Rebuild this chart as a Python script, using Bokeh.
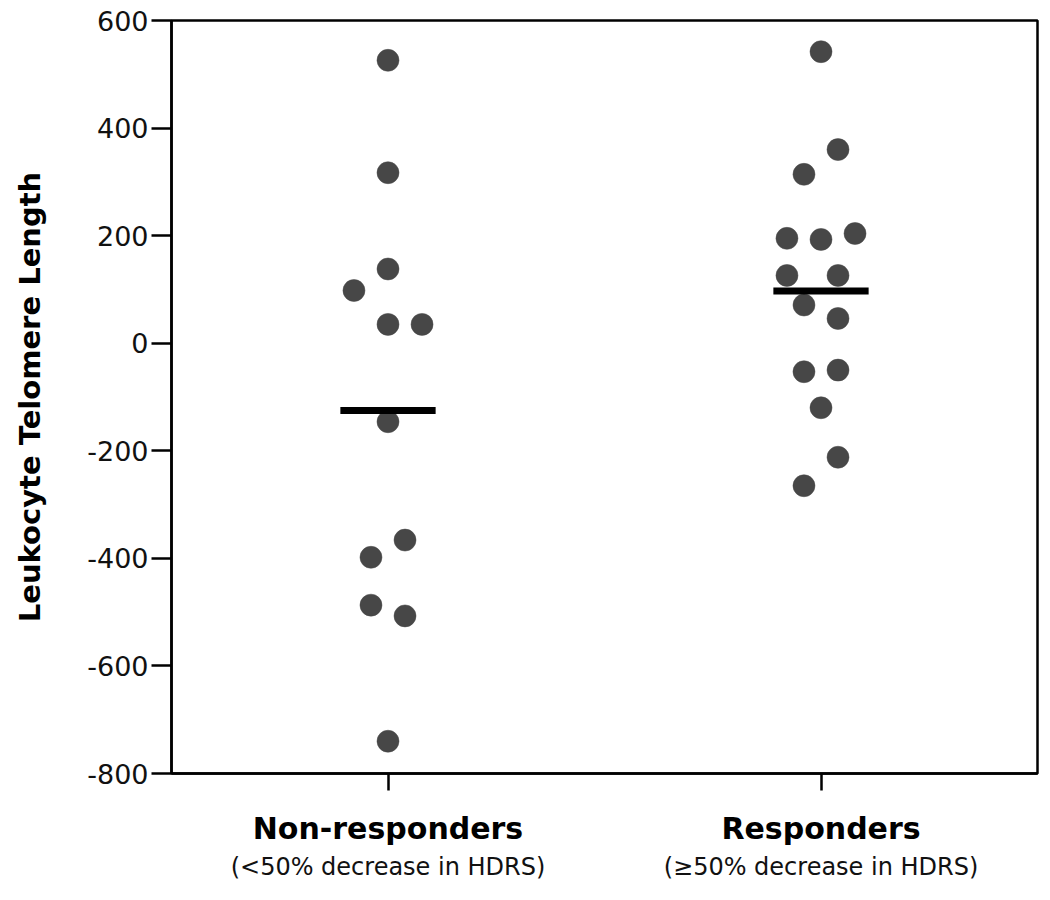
from bokeh.plotting import figure
from bokeh.models import FixedTicker, LinearAxis, Range1d
from bokeh.embed import file_html
from bokeh.resources import INLINE

# ---- data ----
groups = ["Non-responders", "Responders"]
subtitles = ["(<50% decrease in HDRS)", "(\u226550% decrease in HDRS)"]
group_pos = [0.5, 1.5]

nonresp_values = [526, 317, 138, 98, 35, 35, -146, -366, -398, -487, -507, -740]
nonresp_slots = [0, 0, 0, -2, 0, 2, 0, 1, -1, -1, 1, 0]

resp_values = [542, 360, 314, 195, 193, 204, 126, 126, 71, 46, -53, -50, -120, -212, -265]
resp_slots = [0, 1, -1, -2, 0, 2, -2, 1, -1, 1, -1, 1, 0, 1, -1]

group_means = [-125, 97]

y_ticks = [-800, -600, -400, -200, 0, 200, 400, 600]

# ---- style constants ----
SLOT_W = 0.0393      # half dot width in data units (dot-plot stacking)
DOT_COLOR = "#474747"
FONT = "DejaVu Sans"

p = figure(width=1042, height=892, output_backend="svg", toolbar_location=None,
           x_range=Range1d(0, 2), y_range=Range1d(-800, 600),
           min_border_left=171, min_border_right=5, min_border_top=20, min_border_bottom=119)
p.background_fill_color = "white"
p.border_fill_color = "white"
p.xgrid.visible = False
p.ygrid.visible = False
p.outline_line_color = "black"
p.outline_line_width = 2.5

xs_n = [group_pos[0] + s * SLOT_W for s in nonresp_slots]
xs_r = [group_pos[1] + s * SLOT_W for s in resp_slots]
p.scatter(xs_n, nonresp_values, size=22, fill_color=DOT_COLOR, line_color=DOT_COLOR, line_width=0.5)
p.scatter(xs_r, resp_values, size=22, fill_color=DOT_COLOR, line_color=DOT_COLOR, line_width=0.5)

p.rect(x=group_pos, y=group_means, width=0.22, height=7, height_units="screen",
       fill_color="black", line_color=None)

# y axis
ya = p.yaxis[0]
ya.ticker = FixedTicker(ticks=y_ticks)
ya.major_label_overrides = {v: str(v) for v in y_ticks}
ya.minor_tick_line_color = None
ya.major_tick_in = 0
ya.major_tick_out = 20
ya.major_tick_line_width = 2.5
ya.axis_line_width = 2.5
ya.major_label_text_font = FONT
ya.major_label_text_font_size = "27px"
ya.major_label_text_color = "#111111"
ya.major_label_standoff = 3
ya.axis_label = "Leukocyte Telomere Length"
ya.axis_label_text_font = FONT
ya.axis_label_text_font_style = "bold"
ya.axis_label_text_font_size = "29px"
ya.axis_label_text_color = "black"
ya.axis_label_standoff = 37

# x axis (group names)
xa = p.xaxis[0]
xa.ticker = FixedTicker(ticks=group_pos)
xa.major_label_overrides = {group_pos[i]: groups[i] for i in range(2)}
xa.minor_tick_line_color = None
xa.major_tick_in = 0
xa.major_tick_out = 17
xa.major_tick_line_width = 2.5
xa.axis_line_width = 2.5
xa.major_label_text_font = FONT
xa.major_label_text_font_style = "bold"
xa.major_label_text_font_size = "30px"
xa.major_label_text_color = "black"
xa.major_label_standoff = 20

# second x axis (subtitles)
xa2 = LinearAxis(ticker=FixedTicker(ticks=group_pos),
                 major_label_overrides={group_pos[i]: subtitles[i] for i in range(2)})
xa2.axis_line_color = None
xa2.major_tick_line_color = None
xa2.minor_tick_line_color = None
xa2.major_tick_in = 0
xa2.major_tick_out = 0
xa2.major_label_text_font = FONT
xa2.major_label_text_font_size = "24px"
xa2.major_label_text_color = "#111111"
xa2.major_label_standoff = 4
p.add_layout(xa2, "below")

open("out.html", "w").write(file_html(p, INLINE))
